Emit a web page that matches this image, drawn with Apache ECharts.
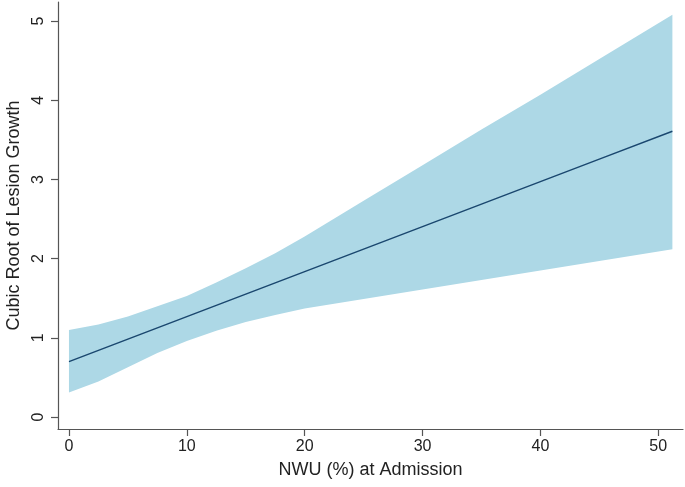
<!DOCTYPE html>
<html>
<head>
<meta charset="utf-8">
<script src="https://cdn.jsdelivr.net/npm/echarts@6/dist/echarts.min.js"></script>
<style>
html,body{margin:0;padding:0;background:#fff;}
#chart{width:685px;height:487px;}
</style>
</head>
<body>
<div id="chart"></div>
<script>
// NWU (%) at admission
var xValues = [0, 2.5, 5, 7.5, 10, 12.5, 15, 17.5, 20, 25, 30, 35, 40, 45, 51.2];
// fitted cubic root of lesion growth
var fitValues = [0.700, 0.842, 0.984, 1.126, 1.268, 1.410, 1.552, 1.694, 1.836, 2.120, 2.404, 2.688, 2.972, 3.256, 3.608];
// 95% CI bounds
var lowerValues = [0.31, 0.45, 0.63, 0.81, 0.96, 1.09, 1.20, 1.29, 1.37, 1.49, 1.61, 1.73, 1.85, 1.97, 2.12];
var upperValues = [1.10, 1.17, 1.27, 1.40, 1.53, 1.70, 1.88, 2.07, 2.28, 2.73, 3.18, 3.63, 4.07, 4.52, 5.08];
var xTicks = [0, 10, 20, 30, 40, 50];
var yTicks = [0, 1, 2, 3, 4, 5];

var bandData = xValues.map(function (x, i) { return [x, lowerValues[i], upperValues[i]]; });
var fitData = xValues.map(function (x, i) { return [x, fitValues[i]]; });

var font = 'Liberation Sans, Arial, Helvetica, sans-serif';
var axisColor = '#555';

function renderBand(params, api) {
  if (params.dataIndex !== 0) return null;
  var pts = [];
  var i;
  for (i = 0; i < bandData.length; i++) {
    pts.push(api.coord([bandData[i][0], bandData[i][2]]));
  }
  for (i = bandData.length - 1; i >= 0; i--) {
    pts.push(api.coord([bandData[i][0], bandData[i][1]]));
  }
  return {
    type: 'polygon',
    shape: {points: pts},
    style: {fill: '#add8e6', stroke: null}
  };
}

var chart = echarts.init(document.getElementById('chart'), null, {renderer: 'canvas'});
chart.setOption({
  animation: false,
  backgroundColor: '#fff',
  grid: {left: 58, right: 2, top: 2, bottom: 58, containLabel: false, outerBoundsMode: 'none'},
  xAxis: {
    type: 'value',
    min: -0.93, max: 52.1,
    name: 'NWU (%) at Admission',
    nameLocation: 'middle',
    nameGap: 32,
    nameTextStyle: {fontFamily: font, fontSize: 18, color: '#222'},
    axisLine: {show: true, onZero: false, lineStyle: {color: axisColor, width: 1.2}},
    axisTick: {show: true, length: 7, lineStyle: {color: axisColor, width: 1.2}, customValues: xTicks},
    axisLabel: {fontFamily: font, fontSize: 16, color: '#222', margin: 10, customValues: xTicks},
    splitLine: {show: false}
  },
  yAxis: {
    type: 'value',
    min: -0.15, max: 5.24,
    name: 'Cubic Root of Lesion Growth',
    nameLocation: 'middle',
    nameGap: 31,
    nameTextStyle: {fontFamily: font, fontSize: 18, color: '#222'},
    axisLine: {show: true, onZero: false, lineStyle: {color: axisColor, width: 1.2}},
    axisTick: {show: true, length: 7, lineStyle: {color: axisColor, width: 1.2}, customValues: yTicks},
    axisLabel: {fontFamily: font, fontSize: 16, color: '#222', margin: 11, rotate: 90, customValues: yTicks},
    splitLine: {show: false}
  },
  series: [
    {
      type: 'custom', data: bandData, renderItem: renderBand,
      encode: {x: 0, y: [1, 2]}, silent: true, z: 1
    },
    {
      type: 'line', data: fitData, symbol: 'none', z: 2,
      lineStyle: {color: '#1a476f', width: 1.5}
    }
  ]
});
</script>
</body>
</html>
